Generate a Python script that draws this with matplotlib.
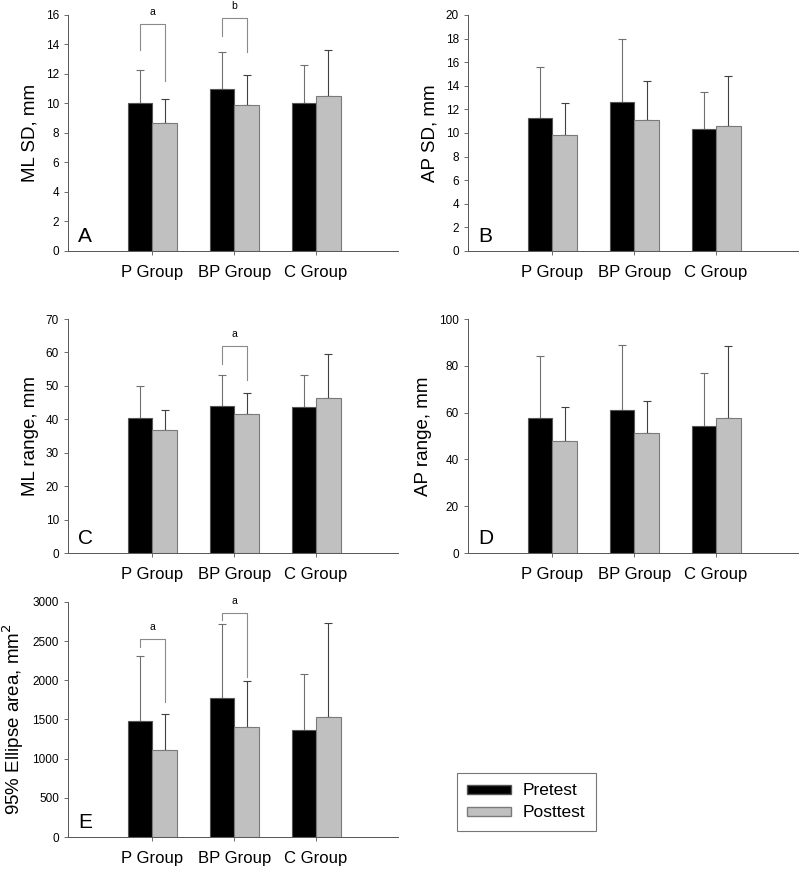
import numpy as np
import matplotlib
matplotlib.use("Agg")
import matplotlib.pyplot as plt
from matplotlib.patches import Patch

plt.rcParams['font.family'] = ['Liberation Sans', 'DejaVu Sans']

groups = ['P Group', 'BP Group', 'C Group']

# mean values and upper error bar tops (mean + SD)
ml_sd_pre = [10.0, 11.0, 10.0]
ml_sd_pre_top = [12.3, 13.5, 12.6]
ml_sd_post = [8.7, 9.9, 10.5]
ml_sd_post_top = [10.3, 11.9, 13.6]

ap_sd_pre = [11.3, 12.6, 10.35]
ap_sd_pre_top = [15.6, 18.0, 13.5]
ap_sd_post = [9.85, 11.1, 10.55]
ap_sd_post_top = [12.5, 14.4, 14.85]

ml_rng_pre = [40.5, 44.1, 43.8]
ml_rng_pre_top = [50.1, 53.2, 53.2]
ml_rng_post = [36.8, 41.5, 46.4]
ml_rng_post_top = [42.9, 48.0, 59.6]

ap_rng_pre = [57.5, 61.0, 54.3]
ap_rng_pre_top = [84.2, 89.0, 77.0]
ap_rng_post = [48.0, 51.2, 57.8]
ap_rng_post_top = [62.5, 65.0, 88.3]

ell_pre = [1485, 1780, 1365]
ell_pre_top = [2315, 2720, 2080]
ell_post = [1105, 1400, 1530]
ell_post_top = [1565, 1985, 2730]

# significance brackets: (group index, top, left leg end, right leg end, label)
br_A = [(0, 15.37, 13.6, 11.5, 'a'), (1, 15.8, 14.6, 13.5, 'b')]
br_C = [(1, 62.0, 56.6, 51.9, 'a')]
br_E = [(0, 2524, 2430, 1717, 'a'), (1, 2860, 2770, 2048, 'a')]

W, H = 800, 869
fig = plt.figure(figsize=(W / 100, H / 100), dpi=100)

bw = 0.3
x = np.arange(1, 4)


def panel(rect, pre, pre_top, post, post_top, ymax, ystep, ylabel, letter, brackets=()):
    ax = fig.add_axes(rect)
    pre = np.array(pre)
    post = np.array(post)
    ax.bar(x - bw / 2, pre, bw, color='black', edgecolor='#555555', linewidth=0.8, zorder=2)
    ax.bar(x + bw / 2, post, bw, color='#c0c0c0', edgecolor='#7a7a7a', linewidth=0.8, zorder=2)
    ax.errorbar(x - bw / 2, pre, yerr=[np.zeros(3), np.array(pre_top) - pre], fmt='none',
                ecolor='#707070', elinewidth=0.8, capsize=3, capthick=0.8, zorder=1)
    ax.errorbar(x + bw / 2, post, yerr=[np.zeros(3), np.array(post_top) - post], fmt='none',
                ecolor='#404040', elinewidth=0.8, capsize=3, capthick=0.8, zorder=1)
    for gi, top, l_end, r_end, lab in brackets:
        xl = x[gi] - bw / 2
        xr = x[gi] + bw / 2
        ax.plot([xl, xl, xr, xr], [l_end, top, top, r_end], color='#8a8a8a', lw=0.8,
                clip_on=False, zorder=3)
        ax.text(x[gi], top + ymax * 0.03, lab, ha='center', va='bottom', fontsize=7.5,
                clip_on=False)
    ax.set_xlim(-0.03, 4.0)
    ax.set_ylim(0, ymax)
    ax.set_yticks(np.arange(0, ymax + ystep / 2, ystep))
    ax.set_xticks(x)
    ax.set_xticklabels(groups, fontsize=12)
    ax.tick_params(axis='y', labelsize=8.5, length=3, width=0.6, color='#555555')
    ax.tick_params(axis='x', length=3, width=0.6, color='#555555', pad=7)
    ax.spines['top'].set_visible(False)
    ax.spines['right'].set_visible(False)
    ax.spines['left'].set_color('#555555')
    ax.spines['bottom'].set_color('#555555')
    ax.spines['left'].set_linewidth(0.7)
    ax.spines['bottom'].set_linewidth(0.7)
    ax.set_ylabel(ylabel, fontsize=13.5, labelpad=5)
    ax.text(0.09, ymax * 0.02, letter, fontsize=15, ha='left', va='bottom')
    return ax


colL, colR, pw = 0.085, 0.585, 0.4125
panel([colL, 0.7112, pw, 0.2716], ml_sd_pre, ml_sd_pre_top, ml_sd_post, ml_sd_post_top,
      16, 2, 'ML SD, mm', 'A', br_A)
panel([colR, 0.7112, pw, 0.2716], ap_sd_pre, ap_sd_pre_top, ap_sd_post, ap_sd_post_top,
      20, 2, 'AP SD, mm', 'B')
panel([colL, 0.3636, pw, 0.2693], ml_rng_pre, ml_rng_pre_top, ml_rng_post, ml_rng_post_top,
      70, 10, 'ML range, mm', 'C', br_C)
panel([colR, 0.3636, pw, 0.2693], ap_rng_pre, ap_rng_pre_top, ap_rng_post, ap_rng_post_top,
      100, 20, 'AP range, mm', 'D')
panel([colL, 0.0368, pw, 0.2705], ell_pre, ell_pre_top, ell_post, ell_post_top,
      3000, 500, '95% Ellipse area, mm$^2$', 'E', br_E)

handles = [Patch(facecolor='black', edgecolor='#555555', label='Pretest'),
           Patch(facecolor='#c0c0c0', edgecolor='#7a7a7a', label='Posttest')]
leg = fig.legend(handles=handles, loc='upper left', bbox_to_anchor=(0.571, 0.1105),
                 fontsize=12.5, fancybox=False, handlelength=2.5, handleheight=0.4,
                 borderaxespad=0, borderpad=0.6, labelspacing=0.4, handletextpad=0.7)
leg.get_frame().set_edgecolor('#555555')
leg.get_frame().set_linewidth(0.8)

fig.savefig('out.png', dpi=100)
